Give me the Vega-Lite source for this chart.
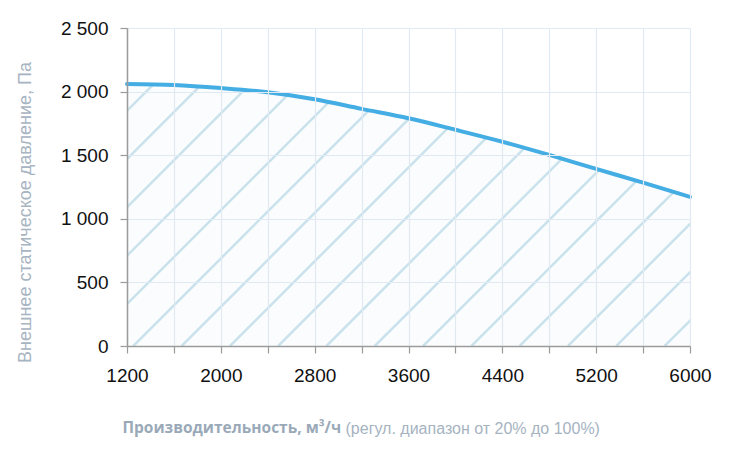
{
  "$schema": "https://vega.github.io/schema/vega-lite/v6.json",
  "width": 563,
  "height": 318,
  "autosize": {"type": "none"},
  "padding": {"left": 127, "top": 28, "right": 40, "bottom": 110},
  "background": "white",
  "config": {"view": {"stroke": null}},
  "datasets": {
    "curve": [
      {"q": 1200, "p": 2060},
      {"q": 1600, "p": 2052},
      {"q": 2000, "p": 2028},
      {"q": 2400, "p": 1995},
      {"q": 2800, "p": 1940},
      {"q": 3200, "p": 1864},
      {"q": 3600, "p": 1790},
      {"q": 4000, "p": 1700},
      {"q": 4400, "p": 1606},
      {"q": 4800, "p": 1502},
      {"q": 5200, "p": 1392},
      {"q": 5600, "p": 1284},
      {"q": 6000, "p": 1172}
    ],
    "hatch": [
      {"xa": -1217, "xb": 1494, "ya": 0, "yb": 2500},
      {"xa": -805, "xb": 1906, "ya": 0, "yb": 2500},
      {"xa": -394, "xb": 2317, "ya": 0, "yb": 2500},
      {"xa": 18, "xb": 2729, "ya": 0, "yb": 2500},
      {"xa": 430, "xb": 3141, "ya": 0, "yb": 2500},
      {"xa": 842, "xb": 3553, "ya": 0, "yb": 2500},
      {"xa": 1254, "xb": 3965, "ya": 0, "yb": 2500},
      {"xa": 1666, "xb": 4377, "ya": 0, "yb": 2500},
      {"xa": 2078, "xb": 4789, "ya": 0, "yb": 2500},
      {"xa": 2489, "xb": 5200, "ya": 0, "yb": 2500},
      {"xa": 2901, "xb": 5612, "ya": 0, "yb": 2500},
      {"xa": 3313, "xb": 6024, "ya": 0, "yb": 2500},
      {"xa": 3725, "xb": 6436, "ya": 0, "yb": 2500},
      {"xa": 4137, "xb": 6848, "ya": 0, "yb": 2500},
      {"xa": 4548, "xb": 7259, "ya": 0, "yb": 2500},
      {"xa": 4960, "xb": 7671, "ya": 0, "yb": 2500},
      {"xa": 5372, "xb": 8083, "ya": 0, "yb": 2500},
      {"xa": 5784, "xb": 8495, "ya": 0, "yb": 2500}
    ]
  },
  "resolve": {"axis": {"x": "independent"}},
  "layer": [
    {
      "data": {"name": "curve"},
      "mark": {"type": "area", "interpolate": "monotone", "color": "#fbfcfd"},
      "encoding": {
        "x": {
          "field": "q", "type": "quantitative",
          "scale": {"domain": [1200, 6000], "nice": false, "zero": false},
          "axis": {
            "orient": "bottom",
            "domain": false, "ticks": false, "labels": false, "grid": false,
            "title": "Производительность, м³/ч",
            "titleFont": "Open Sans", "titleFontWeight": "bold", "titleFontSize": 15.5,
            "titleColor": "#9aa9b8",
            "titleAlign": "left", "titleBaseline": "middle",
            "titleX": -5, "titleY": 81
          }
        },
        "y": {
          "field": "p", "type": "quantitative",
          "scale": {"domain": [0, 2500], "nice": false},
          "title": "Внешнее статическое давление, Па"
        }
      }
    },
    {
      "data": {"name": "hatch"},
      "mark": {"type": "rule", "clip": true, "color": "#c9e2ec", "strokeWidth": 2.5},
      "encoding": {
        "x": {"field": "xa", "type": "quantitative", "axis": null},
        "x2": {"field": "xb"},
        "y": {"field": "ya", "type": "quantitative", "title": "Внешнее статическое давление, Па"},
        "y2": {"field": "yb"}
      }
    },
    {
      "data": {"name": "curve"},
      "mark": {"type": "area", "interpolate": "monotone", "color": "white", "clip": true},
      "encoding": {
        "x": {"field": "q", "type": "quantitative", "axis": {
            "orient": "bottom",
            "domain": false, "ticks": false, "labels": false, "grid": false,
            "title": "(регул. диапазон от 20% до 100%)",
            "titleFont": "Liberation Sans", "titleFontWeight": "normal", "titleFontSize": 16,
            "titleColor": "#a6b3c1",
            "titleAlign": "left", "titleBaseline": "middle",
            "titleX": 218, "titleY": 82
          }},
        "y": {"field": "p", "type": "quantitative", "title": "Внешнее статическое давление, Па"},
        "y2": {"datum": 2500}
      }
    },
    {
      "data": {"name": "curve"},
      "mark": {"type": "line", "interpolate": "monotone", "color": "#44ade3", "strokeWidth": 4, "strokeCap": "round"},
      "encoding": {
        "x": {
          "field": "q", "type": "quantitative",
          "axis": {
            "orient": "bottom",
            "values": [1200, 1600, 2000, 2400, 2800, 3200, 3600, 4000, 4400, 4800, 5200, 5600, 6000],
            "labelExpr": "(datum.value - 1200) % 800 == 0 ? datum.value : ''",
            "grid": true, "gridColor": "#e1eaf2", "gridWidth": 1.2,
            "domainColor": "#9b9b9b", "domainWidth": 1.5,
            "tickColor": "#9b9b9b", "tickSize": 7, "tickWidth": 1.2,
            "labelFont": "Liberation Sans Narrow, Liberation Sans, sans-serif",
            "labelFontSize": 19, "labelColor": "#111111", "labelPadding": 13,
            "labelFlush": false, "labelOverlap": false,
            "title": null, "zindex": 1
          }
        },
        "y": {
          "field": "p", "type": "quantitative",
          "title": "Внешнее статическое давление, Па",
          "axis": {
            "values": [0, 500, 1000, 1500, 2000, 2500],
            "labelExpr": "replace(format(datum.value, ','), ',', ' ')",
            "grid": true, "gridColor": "#e1eaf2", "gridWidth": 1.2,
            "domainColor": "#9b9b9b", "domainWidth": 1.5,
            "tickColor": "#9b9b9b", "tickSize": 7, "tickWidth": 1.2,
            "labelFont": "Liberation Sans Narrow, Liberation Sans, sans-serif",
            "labelFontSize": 19, "labelColor": "#111111", "labelPadding": 12,
            "labelFlush": false, "labelOverlap": false,
            "titleFont": "Liberation Sans", "titleFontWeight": "normal", "titleFontSize": 18,
            "titleColor": "#a7b4c2",
            "titleAngle": -90, "titleAlign": "center", "titleBaseline": "middle",
            "titleX": -102, "titleY": 184,
            "zindex": 1
          }
        }
      }
    }
  ]
}
